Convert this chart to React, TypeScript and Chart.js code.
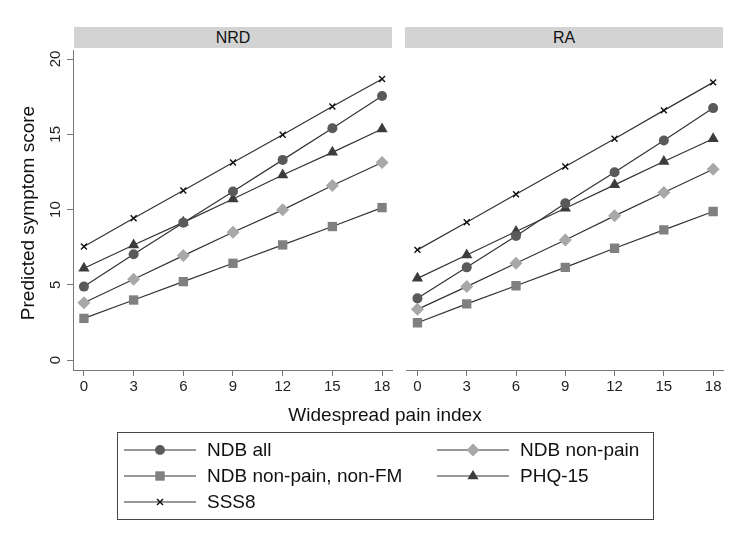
import React, { useEffect, useRef } from 'react';
import { Chart, registerables } from 'chart.js';

Chart.register(...registerables);

const FONT = '"Liberation Sans", Arial, Helvetica, sans-serif';

// Widespread pain index values on the x axis
const WPI = [0, 3, 6, 9, 12, 15, 18];
const Y_TICKS = [0, 5, 10, 15, 20];

const SERIES_NAMES = ['NDB all', 'NDB non-pain', 'NDB non-pain, non-FM', 'PHQ-15', 'SSS8'];

// NRD panel
const NRD_NDB_ALL = [4.88, 7.03, 9.13, 11.2, 13.3, 15.4, 17.54];
const NRD_NON_PAIN = [3.81, 5.37, 6.94, 8.49, 9.98, 11.6, 13.13];
const NRD_NON_FM = [2.77, 3.99, 5.21, 6.43, 7.65, 8.87, 10.13];
const NRD_PHQ15 = [6.1, 7.65, 9.15, 10.7, 12.3, 13.8, 15.35];
const NRD_SSS8 = [7.54, 9.42, 11.26, 13.13, 14.97, 16.85, 18.67];

// RA panel
const RA_NDB_ALL = [4.1, 6.16, 8.25, 10.42, 12.48, 14.59, 16.74];
const RA_NON_PAIN = [3.37, 4.88, 6.43, 7.98, 9.58, 11.13, 12.68];
const RA_NON_FM = [2.48, 3.73, 4.94, 6.16, 7.43, 8.65, 9.87];
const RA_PHQ15 = [5.43, 6.98, 8.54, 10.09, 11.64, 13.19, 14.7];
const RA_SSS8 = [7.32, 9.16, 11.02, 12.86, 14.7, 16.59, 18.45];

const STYLES = [
  { pointStyle: 'circle', color: '#5a5a5a', radius: 5, border: 0 },
  { pointStyle: 'rectRot', color: '#a8a8a8', radius: 6.5, border: 0 },
  { pointStyle: 'rect', color: '#808080', radius: 6.6, border: 0 },
  { pointStyle: 'triangle', color: '#3c3c3c', radius: 6.5, border: 0 },
  { pointStyle: 'crossRot', color: '#111111', radius: 4.2, border: 1.4 },
];

const rotatedYTicks = {
  id: 'rotatedYTicks',
  afterDraw(chart: any) {
    const y = chart.scales.y;
    if (!y || !y.options.display) return;
    const ctx = chart.ctx;
    ctx.save();
    ctx.font = `15px ${FONT}`;
    ctx.fillStyle = '#222';
    ctx.textAlign = 'center';
    ctx.textBaseline = 'middle';
    y.ticks.forEach((t: any) => {
      ctx.save();
      ctx.translate(56, y.getPixelForValue(t.value));
      ctx.rotate(-Math.PI / 2);
      ctx.fillText(String(t.value), 0, 0);
      ctx.restore();
    });
    ctx.restore();
  },
};

interface PanelProps {
  series: number[][];
  showY: boolean;
  left: number;
  width: number;
  padLeft: number;
  padRight: number;
}

const Panel: React.FC<PanelProps> = ({ series, showY, left, width, padLeft, padRight }) => {
  const ref = useRef<HTMLCanvasElement | null>(null);

  useEffect(() => {
    if (!ref.current) return;
    const chart = new Chart(ref.current, {
      type: 'line',
      data: {
        datasets: series.map((vals, i) => ({
          label: SERIES_NAMES[i],
          data: vals.map((v, j) => ({ x: WPI[j], y: v })),
          borderColor: '#333',
          borderWidth: 1.2,
          pointStyle: STYLES[i].pointStyle as any,
          pointRadius: STYLES[i].radius,
          pointBackgroundColor: STYLES[i].color,
          pointBorderColor: STYLES[i].color,
          pointBorderWidth: STYLES[i].border,
          tension: 0,
        })),
      },
      options: {
        animation: false,
        responsive: false,
        layout: { padding: { top: 10, left: padLeft, right: padRight, bottom: 0 } },
        plugins: { legend: { display: false }, tooltip: { enabled: false } },
        scales: {
          x: {
            type: 'linear',
            min: -0.66,
            max: 18.6,
            afterBuildTicks: (s: any) => {
              s.ticks = WPI.map((v) => ({ value: v }));
            },
            afterFit: (s: any) => {
              s.height = 40;
            },
            grid: { drawOnChartArea: false, drawTicks: true, tickLength: 6, color: '#777' },
            border: { display: true, color: '#777', width: 1 },
            ticks: { font: { family: FONT, size: 15 }, color: '#222', padding: 2, maxRotation: 0 },
          },
          y: {
            display: showY,
            min: -0.66,
            max: 20.6,
            afterBuildTicks: (s: any) => {
              s.ticks = Y_TICKS.map((v) => ({ value: v }));
            },
            afterFit: (s: any) => {
              s.width = showY ? 73 : 0;
            },
            grid: { drawOnChartArea: false, drawTicks: true, tickLength: 6, color: '#777' },
            border: { display: true, color: '#777', width: 1 },
            ticks: { display: false },
          },
        },
      },
      plugins: [rotatedYTicks],
    });
    return () => chart.destroy();
  }, [series, showY, padLeft, padRight]);

  return (
    <canvas
      ref={ref}
      width={width}
      height={370}
      style={{ position: 'absolute', left, top: 40, width, height: 370 }}
    />
  );
};

const headerStyle = (left: number): React.CSSProperties => ({
  position: 'absolute',
  left,
  top: 27,
  width: 318,
  height: 21,
  background: '#d3d3d3',
  font: `16px ${FONT}`,
  color: '#111',
  textAlign: 'center',
  lineHeight: '21px',
});

const LegendMarker: React.FC<{ idx: number }> = ({ idx }) => {
  const c = STYLES[idx].color;
  let mark: React.ReactNode = null;
  if (idx === 0) mark = <circle cx={36} cy={8} r={5} fill={c} />;
  if (idx === 1) mark = <polygon points="36,1.5 42.5,8 36,14.5 29.5,8" fill={c} />;
  if (idx === 2) mark = <rect x={31.3} y={3.3} width={9.4} height={9.4} fill={c} />;
  if (idx === 3) mark = <polygon points="36,2 41.6,11.2 30.4,11.2" fill={c} />;
  if (idx === 4)
    mark = (
      <g stroke={c} strokeWidth={1.4}>
        <line x1={33} y1={5} x2={39} y2={11} />
        <line x1={39} y1={5} x2={33} y2={11} />
      </g>
    );
  return (
    <svg width={72} height={16} style={{ position: 'absolute', left: 0, top: 0 }}>
      <line x1={0} y1={8} x2={72} y2={8} stroke="#333" strokeWidth={1.2} />
      {mark}
    </svg>
  );
};

const LEGEND_POS = [
  { x: 124, y: 450 },
  { x: 437, y: 450 },
  { x: 124, y: 476 },
  { x: 437, y: 476 },
  { x: 124, y: 502 },
];

export default function App() {
  const nrd = [NRD_NDB_ALL, NRD_NON_PAIN, NRD_NON_FM, NRD_PHQ15, NRD_SSS8];
  const ra = [RA_NDB_ALL, RA_NON_PAIN, RA_NON_FM, RA_PHQ15, RA_SSS8];

  return (
    <div
      style={{
        position: 'fixed',
        left: 0,
        top: 0,
        width: 750,
        height: 546,
        background: '#fff',
        overflow: 'hidden',
        fontFamily: FONT,
        color: '#111',
      }}
    >
      <div style={headerStyle(74)}>NRD</div>
      <div style={headerStyle(405)}>RA</div>
      <Panel series={nrd} showY={true} left={0} width={400} padLeft={0} padRight={8} />
      <Panel series={ra} showY={false} left={400} width={350} padLeft={5} padRight={27} />
      <div
        style={{
          position: 'absolute',
          left: 28 - 150,
          top: 213 - 12,
          width: 300,
          height: 24,
          lineHeight: '24px',
          textAlign: 'center',
          fontSize: 19,
          transform: 'rotate(-90deg)',
        }}
      >
        Predicted symptom score
      </div>
      <div
        style={{
          position: 'absolute',
          left: 385 - 150,
          top: 403,
          width: 300,
          height: 24,
          lineHeight: '24px',
          textAlign: 'center',
          fontSize: 19,
        }}
      >
        Widespread pain index
      </div>
      <div
        style={{
          position: 'absolute',
          left: 117,
          top: 432,
          width: 535,
          height: 86,
          border: '1px solid #444',
        }}
      />
      {LEGEND_POS.map((p, i) => (
        <div key={i} style={{ position: 'absolute', left: p.x, top: p.y - 8, height: 16 }}>
          <LegendMarker idx={i} />
          <div
            style={{
              position: 'absolute',
              left: 83,
              top: -4,
              whiteSpace: 'nowrap',
              fontSize: 19,
              lineHeight: '24px',
            }}
          >
            {SERIES_NAMES[i]}
          </div>
        </div>
      ))}
    </div>
  );
}
